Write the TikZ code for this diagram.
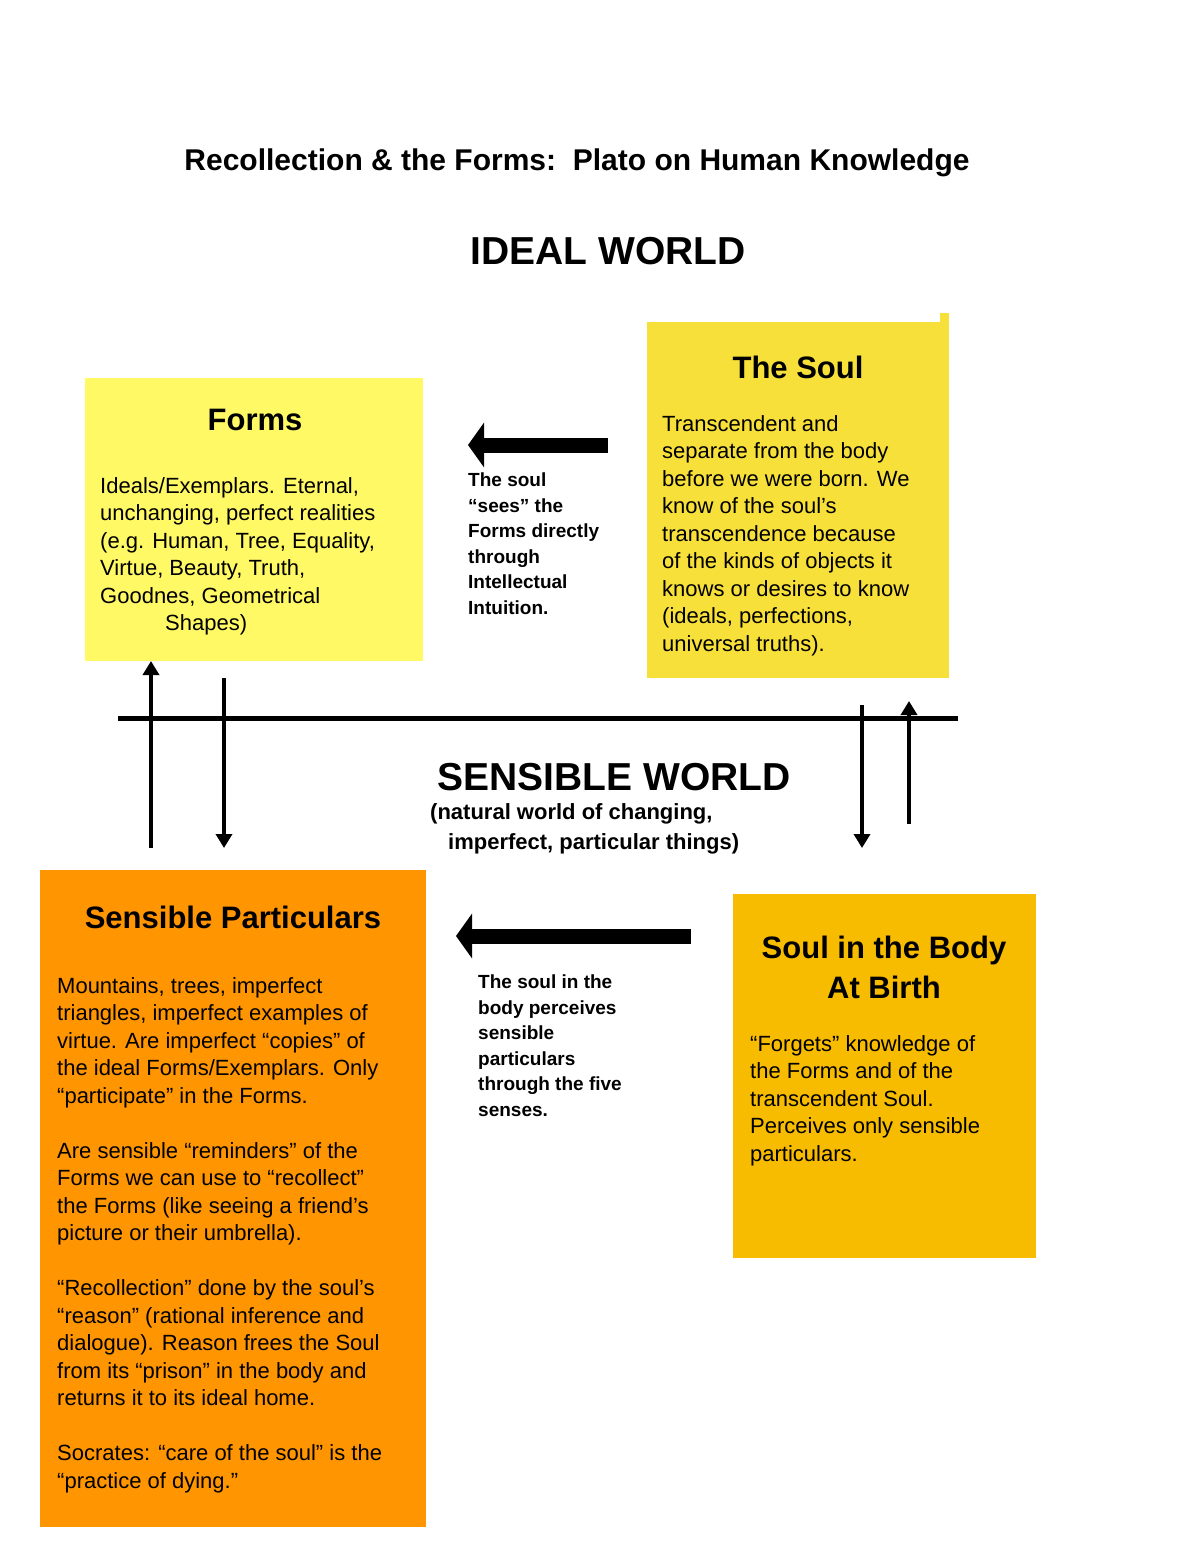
\documentclass[tikz,border=0pt]{standalone}
\usepackage{fontspec}
\setmainfont{Liberation Sans}
\usetikzlibrary{arrows.meta}
\definecolor{formsc}{HTML}{FFF966}
\definecolor{soulc}{HTML}{F8E03A}
\definecolor{partc}{HTML}{FF9500}
\definecolor{bodyc}{HTML}{F7BB00}
\begin{document}
\begin{tikzpicture}[x=1pt,y=-1pt,
  box/.style={draw=none,inner sep=0},
  body/.style={anchor=north west,align=left,inner sep=0,font=\fontsize{22}{27.5}\selectfont},
  small/.style={anchor=north west,align=left,inner sep=0,font=\bfseries\fontsize{19}{25.5}\selectfont},
  head/.style={font=\bfseries\fontsize{31}{40}\selectfont},
  big/.style={font=\bfseries\fontsize{39}{44}\selectfont},
  fat/.style={line width=15pt,-{Triangle[length=16pt,width=44pt]}},
  thin/.style={line width=4pt,-{Triangle[length=14pt,width=16pt]}}]
\useasboundingbox (0,0) rectangle (1200,1553);
\fill[white] (0,0) rectangle (1200,1553);
\node (title) at (577,163) {\bfseries\fontsize{30}{36}\selectfont Recollection \& the Forms:\ \ Plato on Human Knowledge};
\node[big] (ideal) at (608,251) {IDEAL WORLD};
% Forms
\fill[formsc] (85,378) rectangle (423,661);
\coordinate (formsbot) at (151,661);
\node[head] (forms) at (255,420) {Forms};
\node[body] (formstext) at (100,477) {Ideals/Exemplars. Eternal,\\unchanging, perfect realities\\(e.g. Human, Tree, Equality,\\Virtue, Beauty, Truth,\\Goodnes, Geometrical\\\hspace{65pt}Shapes)};
% Soul
\fill[soulc] (647,322) rectangle (949,678);
\fill[soulc] (940,313) rectangle (949,322);
\node[head] (soul) at (798,367) {The Soul};
\node[body] (soultext) at (662,415) {Transcendent and\\separate from the body\\before we were born. We\\know of the soul’s\\transcendence because\\of the kinds of objects it\\knows or desires to know\\(ideals, perfections,\\universal truths).};
\coordinate (a1s) at (608,445); \coordinate (a1e) at (468,445);
\draw[fat] (a1s) -- (a1e);
\node[small] (sees) at (468,473) {The soul\\“sees” the\\Forms directly\\through\\Intellectual\\Intuition.};
% divider
\coordinate (dl) at (118,718); \coordinate (dr) at (958,718);
\draw[line width=5pt] (dl) -- (dr);
\coordinate (u1s) at (151,848); \coordinate (d1s) at (224,678); \coordinate (d1e) at (224,848);
\draw[thin] (u1s) -- (formsbot);
\draw[thin] (d1s) -- (d1e);
\coordinate (d2s) at (862,705); \coordinate (d2e) at (862,848);
\coordinate (u2s) at (909,824); \coordinate (u2e) at (909,701);
\draw[thin] (d2s) -- (d2e);
\draw[thin] (u2s) -- (u2e);
\node[big] (sensible) at (614,777) {SENSIBLE WORLD};
\node[anchor=north west,align=left,inner sep=0,font=\bfseries\fontsize{22}{30}\selectfont] (sub) at (430,803) {(natural world of changing,\\\hspace{18pt}imperfect, particular things)};
% particulars
\fill[partc] (40,870) rectangle (426,1527);
\node[head] (part) at (233,917) {Sensible Particulars};
\node[body] (parttext) at (57,977) {Mountains, trees, imperfect\\triangles, imperfect examples of\\virtue. Are imperfect “copies” of\\the ideal Forms/Exemplars. Only\\“participate” in the Forms.\\[27.5pt]Are sensible “reminders” of the\\Forms we can use to “recollect”\\the Forms (like seeing a friend’s\\picture or their umbrella).\\[27.5pt]“Recollection” done by the soul’s\\“reason” (rational inference and\\dialogue). Reason frees the Soul\\from its “prison” in the body and\\returns it to its ideal home.\\[27.5pt]Socrates: “care of the soul” is the\\“practice of dying.”};
\coordinate (a2s) at (691,936); \coordinate (a2e) at (456,936);
\draw[fat] (a2s) -- (a2e);
\node[small] (perc) at (478,975) {The soul in the\\body perceives\\sensible\\particulars\\through the five\\senses.};
% soul in body
\fill[bodyc] (733,894) rectangle (1036,1258);
\node[head,align=center] (sib) at (884,967) {Soul in the Body\\At Birth};
\node[body] (sibtext) at (750,1035) {“Forgets” knowledge of\\the Forms and of the\\transcendent Soul.\\Perceives only sensible\\particulars.};
\end{tikzpicture}
\end{document}
